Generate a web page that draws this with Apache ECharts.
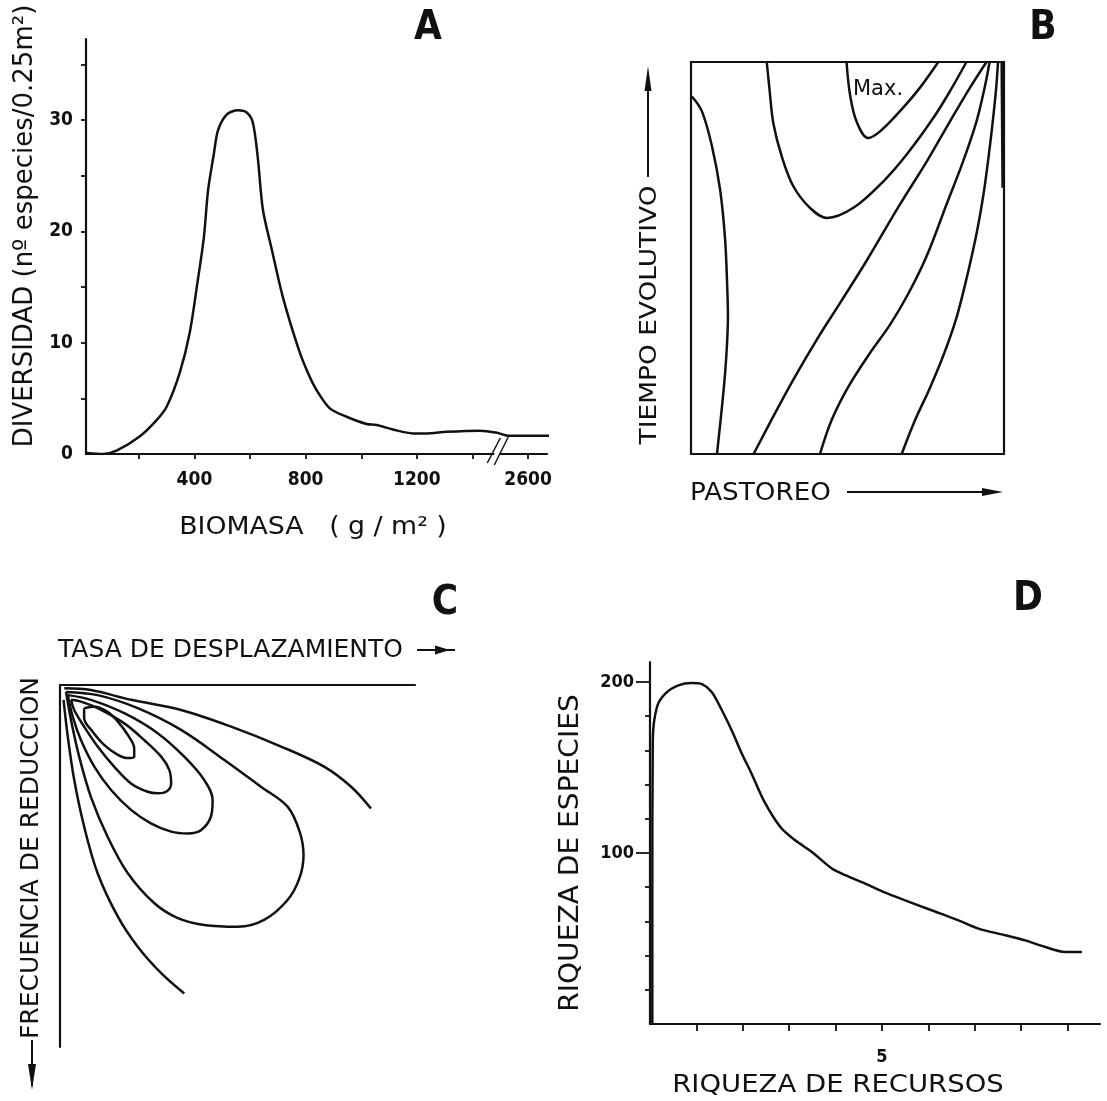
<!DOCTYPE html>
<html><head><meta charset="utf-8">
<script src="https://cdn.jsdelivr.net/npm/echarts@6/dist/echarts.min.js"></script>
<style>html,body{margin:0;padding:0;background:#fff}#c{width:1107px;height:1101px}</style>
</head><body><div id="c"></div>
<script>
// ---------- Panel A: diversidad vs biomasa ----------
const biomasa = [13, 71, 120, 204, 264, 300, 347, 383, 412, 434, 449, 470, 485, 516, 557, 588, 610, 628, 646, 678, 718, 775, 808, 839, 887, 947, 1019, 1055, 1114, 1186, 1235, 1307, 1427, 1490, 2527, 2595, 2685];
const diversidad = [0.1, 0.0, 0.3, 1.6, 3.05, 4.25, 7.3, 10.9, 15.6, 19.5, 23.7, 27.0, 29.1, 30.5, 30.9, 30.7, 29.8, 26.6, 22.0, 18.4, 14.1, 9.4, 7.3, 5.75, 4.1, 3.35, 2.7, 2.6, 2.2, 1.85, 1.85, 2.0, 2.1, 1.9, 1.65, 1.65, 1.65];
const aBreak = [1500, 2500];                 // axis break (g/m2)
const aXTicks = [200, 400, 600, 800, 1000, 1200, 1400, 2600];
const aXLabels = [400, 800, 1200, 2600];
const aYTicks = [5, 10, 15, 20, 25, 30, 35];
const aYLabels = [0, 10, 20, 30];

// ---------- Panel B: contours tiempo evolutivo / pastoreo (0-100 units) ----------
const bCurve1 = [[0.3,91.2],[3.5,87.4],[6.7,78.5],[9.3,67.4],[10.9,54.7],[11.6,42],[11.8,35],[11.5,28],[10.9,20.7],[9.9,12.1],[8.3,0]];
const bCurve2 = [[24.2,100],[25.1,92.9],[26.3,84.4],[29.0,75.9],[32.7,68.3],[38.0,62.8],[43.4,60.2],[51.9,62.8],[61.4,69.5],[68.9,76.4],[77.4,85.7],[82.7,92.5],[88.0,100]];
const bCurveMax = [[49.7,100],[50.8,91.7],[52.9,84.8],[56.6,80.6],[60.4,82.3],[66.7,87.4],[73.1,93.4],[79.0,100]];
const bCurve3 = [[20.0,0],[26.3,9.6],[32.7,19.0],[40.2,29.2],[47.6,38.5],[56.1,49.3],[66.7,63.6],[75.3,74.6],[82.7,84.8],[89.1,93.4],[94.4,100]];
const bCurve4 = [[41.2,0],[45.0,8.8],[50.3,17.2],[57.2,25.8],[63.6,33.0],[69.5,41.0],[75.3,50.5],[81.6,63.6],[86.9,74.6],[91.2,84.8],[93.8,93.4],[95.4,100]];
const bCurve5 = [[67.3,0],[71.5,8.5],[76.3,16.8],[80.8,25.5],[84.9,35.0],[88.4,46],[91.3,56.5],[93.4,66],[95.1,76],[96.5,85.5],[97.5,93.4],[98.1,100]];
const bCurve6 = [[99.3,100],[99.6,67.9]];

// ---------- Panel C: frecuencia de reduccion / tasa de desplazamiento (0-100 units) ----------
const cLoop1 = [[6.8,6.4],[9.7,6.0],[13.4,7.4],[16.3,10.1],[19.1,13.8],[20.9,17.5],[20.9,19.8],[19.1,20.2],[16.3,19.3],[12.5,16.6],[9.2,12.9],[6.8,9.2],[6.8,6.4]];
const cLoop2 = [[3.1,4.1],[5.9,4.6],[10.6,6.4],[18.1,10.6],[23.7,15.2],[28.5,19.8],[30.8,23.5],[31.3,27.2],[29.9,29.5],[27.5,29.9],[24.7,29.5],[20.0,27.2],[15.3,22.6],[10.6,17.0],[6.8,11.5],[4.0,6.9],[3.1,4.1]];
const cLoop3 = [[2.2,2.8],[8.7,4.1],[18.1,7.8],[27.5,13.3],[35.0,19.8],[40.6,26.2],[43.0,31.8],[42.5,36.4],[39.7,40.1],[36.0,41.0],[31.3,40.5],[25.6,38.2],[20.0,34.5],[14.4,29.0],[9.7,22.6],[5.9,15.2],[3.6,8.8],[2.2,2.8]];
const cLoop4 = [[1.7,1.9],[10.6,2.8],[21.9,6.4],[34.1,12.4],[46.3,20.7],[56.6,28.1],[64.1,33.6],[67.5,40.5],[68.6,47.0],[67.4,53.5],[64.1,59.4],[57.5,64.9],[50.1,66.8],[40.6,66.3],[33.2,64.4],[26.6,60.3],[19.1,52.0],[13.4,41.9],[8.7,30.9],[5.4,19.8],[3.1,9.7],[1.7,1.9]];
const cOpenTop = [[1.2,0.9],[8.7,1.4],[20.0,4.1],[34.1,6.9],[48.2,11.5],[62.3,17.0],[74.5,22.6],[82.0,28.1],[87.6,34.1]];
const cOpenBottom = [[1.0,4.1],[2.2,14.3],[4.0,26.2],[6.8,39.1],[10.6,52.0],[16.3,64.0],[21.9,72.3],[28.5,79.6],[35.0,85.2]];

// ---------- Panel D: riqueza de especies vs riqueza de recursos ----------
const recursos = [0.05, 0.05, 0.06, 0.15, 0.33, 0.61, 0.9, 1.12, 1.33, 1.55, 1.76, 1.98, 2.19, 2.45, 2.81, 3.13, 3.49, 3.92, 4.21, 4.64, 5.07, 5.5, 6.07, 6.65, 7.08, 7.66, 8.09, 8.52, 8.95, 9.31];
const especies = [0, 76, 166, 185.4, 193.2, 198, 199.4, 198.7, 194.2, 183.5, 171.8, 158.1, 146.4, 130.8, 115.2, 107.4, 100.6, 90.9, 87, 82.1, 76.8, 72.3, 66.5, 60.6, 55.8, 51.9, 48.9, 45, 42.1, 42.1];
const dXTicks = [1, 2, 3, 4, 5, 6, 7, 8, 9];
const dXLabels = [5];
const dYMajor = [100, 200];
const dYMinor = [20, 40, 60, 80, 120, 140, 160, 180];

// ---------- helpers ----------
const INK = '#111';
const FONT = 'DejaVu Sans';
const NUMFONT = 'DejaVu Sans Condensed';
const LW = 2.5;
const posA = v => v >= aBreak[1] ? v - (aBreak[1] - aBreak[0]) : v;
const lineS = (data, x, y, extra) => Object.assign({
  type: 'line', xAxisIndex: x, yAxisIndex: y, data: data, showSymbol: false, symbol: 'none',
  smooth: 0.35, lineStyle: {color: INK, width: LW}, silent: true, animation: false
}, extra || {});
const hiddenAxis = (g, extra) => Object.assign({
  type: 'value', gridIndex: g, min: 0, max: 100, show: true,
  axisLine: {show: false}, axisTick: {show: false}, axisLabel: {show: false}, splitLine: {show: false}
}, extra || {});

const chart = echarts.init(document.getElementById('c'), null, {renderer: 'canvas'});

const txt = (text, x, y, size, opt) => Object.assign({
  type: 'text', x: x, y: y, silent: true,
  style: {text: text, fill: INK, font: `${(opt && opt.weight) || 'normal'} ${size}px "${(opt && opt.family) || FONT}"`,
    textAlign: (opt && opt.align) || 'center', textVerticalAlign: 'middle'}
}, opt && opt.el ? opt.el : {});
const seg = (x1, y1, x2, y2, w) => ({type: 'line', silent: true, shape: {x1, y1, x2, y2}, style: {stroke: INK, lineWidth: w || 2}});
const head = (pts) => ({type: 'polygon', silent: true, shape: {points: pts}, style: {fill: INK}});
const axisL = {show: true, onZero: false, lineStyle: {color: INK, width: 2.2}};

const option = {
  backgroundColor: '#fff',
  animation: false,
  grid: [
    {left: 86, top: 39, width: 461, height: 415, outerBoundsMode: 'none'},
    {left: 691, top: 62, width: 313, height: 392, show: true, borderColor: INK, borderWidth: 2.2, backgroundColor: 'transparent', outerBoundsMode: 'none'},
    {left: 60, top: 685, width: 355, height: 362, outerBoundsMode: 'none'},
    {left: 650, top: 662, width: 450, height: 362, outerBoundsMode: 'none'}
  ],
  xAxis: [
    {type: 'value', gridIndex: 0, min: 10, max: 1668, axisLine: axisL,
      axisTick: {show: true, length: 5, lineStyle: {color: INK, width: 1.8}, customValues: aXTicks.map(posA)},
      axisLabel: {show: true, margin: 17, color: INK, fontFamily: NUMFONT, fontWeight: 'bold', fontSize: 19,
        customValues: aXLabels.map(posA), formatter: v => String(aXLabels[aXLabels.map(posA).indexOf(v)] ?? '')},
      splitLine: {show: false}},
    hiddenAxis(1),
    hiddenAxis(2, {position: 'top', axisLine: axisL}),
    {type: 'value', gridIndex: 3, min: 0, max: 9.7, axisLine: axisL,
      axisTick: {show: true, length: 7, lineStyle: {color: INK, width: 1.8}, customValues: dXTicks},
      axisLabel: {show: true, margin: 24, color: INK, fontFamily: NUMFONT, fontWeight: 'bold', fontSize: 18, customValues: dXLabels},
      splitLine: {show: false}}
  ],
  yAxis: [
    {type: 'value', gridIndex: 0, min: 0, max: 37.3, axisLine: axisL,
      axisTick: {show: true, length: 5, lineStyle: {color: INK, width: 1.8}, customValues: aYTicks},
      axisLabel: {show: true, margin: 13, color: INK, fontFamily: NUMFONT, fontWeight: 'bold', fontSize: 19, customValues: aYLabels},
      splitLine: {show: false}},
    hiddenAxis(1),
    hiddenAxis(2, {inverse: true, axisLine: axisL}),
    {type: 'value', gridIndex: 3, min: 0, max: 211.7, axisLine: axisL,
      axisTick: {show: true, length: 14, lineStyle: {color: INK, width: 1.8}, customValues: dYMajor},
      axisLabel: {show: true, margin: 16, color: INK, fontFamily: NUMFONT, fontWeight: 'bold', fontSize: 18, customValues: dYMajor},
      splitLine: {show: false}},
    {type: 'value', gridIndex: 3, min: 0, max: 211.7, position: 'left', offset: 0,
      axisLine: {show: false},
      axisTick: {show: true, length: 5, lineStyle: {color: INK, width: 1.8}, customValues: dYMinor},
      axisLabel: {show: false}, splitLine: {show: false}}
  ],
  series: [
    lineS(biomasa.map((b, i) => [posA(b), diversidad[i]]), 0, 0, {smooth: 0.3}),
    {type: 'custom', xAxisIndex: 0, yAxisIndex: 0, silent: true, clip: false, data: [[aBreak[0], 0]],
      renderItem: (params, api) => {
        const p = api.coord([api.value(0), api.value(1)]);
        return {type: 'group', children: [
          {type: 'rect', shape: {x: p[0] - 6, y: p[1] - 2, width: 5, height: 4}, style: {fill: '#fff'}},
          {type: 'line', shape: {x1: p[0] - 13, y1: p[1] + 9, x2: p[0], y2: p[1] - 16}, style: {stroke: INK, lineWidth: 1.5}},
          {type: 'line', shape: {x1: p[0] - 6, y1: p[1] + 11, x2: p[0] + 8, y2: p[1] - 17}, style: {stroke: INK, lineWidth: 1.5}}
        ]};
      }},
    lineS(bCurve1, 1, 1), lineS(bCurve2, 1, 1), lineS(bCurveMax, 1, 1), lineS(bCurve3, 1, 1),
    lineS(bCurve4, 1, 1), lineS(bCurve5, 1, 1), lineS(bCurve6, 1, 1, {smooth: false, lineStyle: {color: INK, width: 2.8}}),
    lineS(cLoop1, 2, 2), lineS(cLoop2, 2, 2), lineS(cLoop3, 2, 2), lineS(cLoop4, 2, 2),
    lineS(cOpenTop, 2, 2), lineS(cOpenBottom, 2, 2),
    lineS(recursos.map((r, i) => [r, especies[i]]), 3, 3, {smooth: 0.3})
  ],
  graphic: [
    // Panel letters
    txt('A', 428, 29, 40, {weight: 'bold', family: NUMFONT}),
    txt('B', 1043, 29, 40, {weight: 'bold', family: NUMFONT}),
    txt('C', 445, 604, 40, {weight: 'bold', family: NUMFONT}),
    txt('D', 1028, 600, 40, {weight: 'bold', family: NUMFONT}),
    // A titles
    txt('DIVERSIDAD (nº especies/0.25m²)', 25, 226, 26, {el: {rotation: Math.PI / 2}}),
    txt('BIOMASA   ( g / m² )', 313, 527, 25, {el: {scaleX: 1.07}}),
    // B titles and arrows
    txt('TIEMPO EVOLUTIVO', 650, 315, 23, {el: {rotation: Math.PI / 2, scaleX: 1.15}}),
    seg(648, 177, 648, 86, 2), head([[648, 66], [644.5, 91], [651.5, 91]]),
    txt('PASTOREO', 690, 493, 25, {align: 'left', el: {scaleX: 1.05}}),
    seg(847, 492, 986, 492, 2), head([[1003, 492], [982, 488], [982, 496]]),
    txt('Max.', 853, 90, 21, {align: 'left'}),
    // C titles and arrows
    txt('TASA DE DESPLAZAMIENTO', 58, 650, 25, {align: 'left'}),
    seg(417, 650, 455, 650, 2), head([[450, 650], [435, 645.5], [435, 654.5]]),
    txt('FRECUENCIA DE REDUCCION', 31, 858, 25, {el: {rotation: Math.PI / 2}}),
    seg(32, 1040, 32, 1086, 2), head([[32, 1090], [28, 1064], [36, 1064]]),
    // D titles
    txt('RIQUEZA DE ESPECIES', 571, 853, 26, {el: {rotation: Math.PI / 2, scaleX: 1.08}}),
    txt('RIQUEZA DE RECURSOS', 838, 1085, 25, {el: {scaleX: 1.1}})
  ]
};
chart.setOption(option);
</script>
</body></html>
